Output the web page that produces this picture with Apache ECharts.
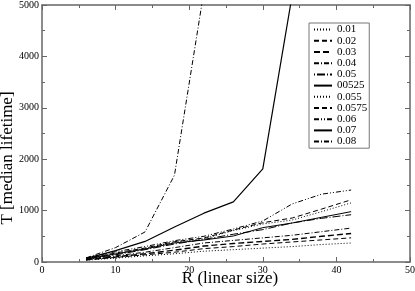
<!DOCTYPE html>
<html>
<head>
<meta charset="utf-8">
<script src="https://cdn.jsdelivr.net/npm/echarts@6/dist/echarts.min.js"></script>
<style>html,body{margin:0;padding:0;background:#fff}#c{width:415px;height:291px}</style>
</head>
<body>
<div id="c"></div>
<script>
var R = [6, 10, 14, 18, 22, 26, 30, 34, 38, 42];
var names = ['0.01', '0.02', '0.03', '0.04', '0.05', '00525', '0.055', '0.0575', '0.06', '0.07', '0.08'];
var t001 = [35, 75, 120, 160, 210, 240, 270, 300, 340, 370];
var t002 = [40, 90, 140, 190, 260, 300, 350, 390, 430, 470];
var t003 = [45, 100, 160, 230, 310, 360, 400, 440, 500, 555];
var t004 = [50, 120, 190, 280, 370, 420, 470, 520, 590, 660];
var t005 = [55, 140, 240, 350, 440, 540, 630, 760, 850, 920];
var t00525 = [60, 156, 253, 370, 428, 506, 668, 759, 870, 980];
var t0055 = [65, 170, 265, 385, 455, 610, 740, 817, 980, 1150];
var t00575 = [70, 175, 272, 395, 467, 622, 765, 856, 1030, 1210];
var t006 = [80, 200, 300, 415, 500, 642, 798, 1130, 1320, 1400];
var t007 = [70, 220, 400, 680, 950, 1170, 1810, 5200];
var t008 = [80, 280, 585, 1690, 5270];
var xTicks = [0, 10, 20, 30, 40, 50];
var yTicks = [0, 1000, 2000, 3000, 4000, 5000];
var xName = 'R (linear size)';
var yName = 'T [median lifetime]';

var values = [t001, t002, t003, t004, t005, t00525, t0055, t00575, t006, t007, t008];
var dashes = [[1, 2], [5, 3], [6, 3], [5, 2, 1, 2], [1, 2, 8, 2], 'solid', [1, 2], [5, 3], [5, 2, 1, 2, 1, 2], 'solid', [5, 2, 1, 2]];
var widths = [1, 1, 1.4, 1, 1, 1, 1, 1, 1, 1.2, 1];

var series = names.map(function (n, i) {
  return {
    name: n,
    type: 'line',
    symbol: 'none',
    clip: true,
    data: values[i].map(function (v, j) { return [R[j], v]; }),
    lineStyle: { color: '#000', width: widths[i], type: dashes[i] },
    itemStyle: { color: '#000' }
  };
});

var frame = { show: true, onZero: false, lineStyle: { color: '#666', width: 1.5 } };
var tick = { inside: true, length: 5, lineStyle: { color: '#666' } };
var minor = { show: true, splitNumber: 2, length: 3, lineStyle: { color: '#666' } };
var font = 'Liberation Serif';
var chart = echarts.init(document.getElementById('c'));
chart.setOption({
  animation: false,
  backgroundColor: '#fff',
  grid: { left: 42, right: 5, top: 5, bottom: 29, containLabel: false, outerBoundsMode: 'none' },
  legend: {
    orient: 'vertical', left: 309, top: 23,
    data: names,
    itemStyle: { opacity: 0, borderWidth: 0 },
    itemWidth: 18, itemHeight: 8, itemGap: 0,
    padding: [1, 2, 1, 4],
    borderColor: '#777', borderWidth: 1, backgroundColor: '#fff',
    textStyle: { fontFamily: font, fontSize: 11, color: '#000', lineHeight: 11.2 }
  },
  graphic: [{
    type: 'text', z: 10,
    x: 230, y: 279,
    style: { text: xName, font: '17px "Liberation Serif"', fill: '#000', align: 'center', verticalAlign: 'middle' }
  }, {
    type: 'text', z: 10,
    x: 8, y: 158, rotation: Math.PI / 2,
    style: { text: yName, font: '17px "Liberation Serif"', fill: '#000', align: 'center', verticalAlign: 'middle' }
  }],
  xAxis: [{
    type: 'value', min: 0, max: 50, interval: 10,
    axisLine: frame, axisTick: tick, minorTick: minor,
    axisLabel: { fontFamily: font, fontSize: 10, color: '#000', margin: 3,
      formatter: function (v) { return xTicks.indexOf(v) >= 0 ? String(v) : ''; } },
    splitLine: { show: false }
  }, {
    type: 'value', min: 0, max: 50, interval: 10, position: 'top',
    axisLine: frame, axisTick: tick, minorTick: minor,
    axisLabel: { show: false }, splitLine: { show: false }
  }],
  yAxis: [{
    type: 'value', min: 0, max: 5000, interval: 1000,
    axisLine: frame, axisTick: tick, minorTick: minor,
    axisLabel: { fontFamily: font, fontSize: 10, color: '#000', margin: 3,
      formatter: function (v) { return yTicks.indexOf(v) >= 0 ? String(v) : ''; } },
    splitLine: { show: false }
  }, {
    type: 'value', min: 0, max: 5000, interval: 1000, position: 'right',
    axisLine: frame, axisTick: tick, minorTick: minor,
    axisLabel: { show: false }, splitLine: { show: false }
  }],
  series: series
});
</script>
</body>
</html>
